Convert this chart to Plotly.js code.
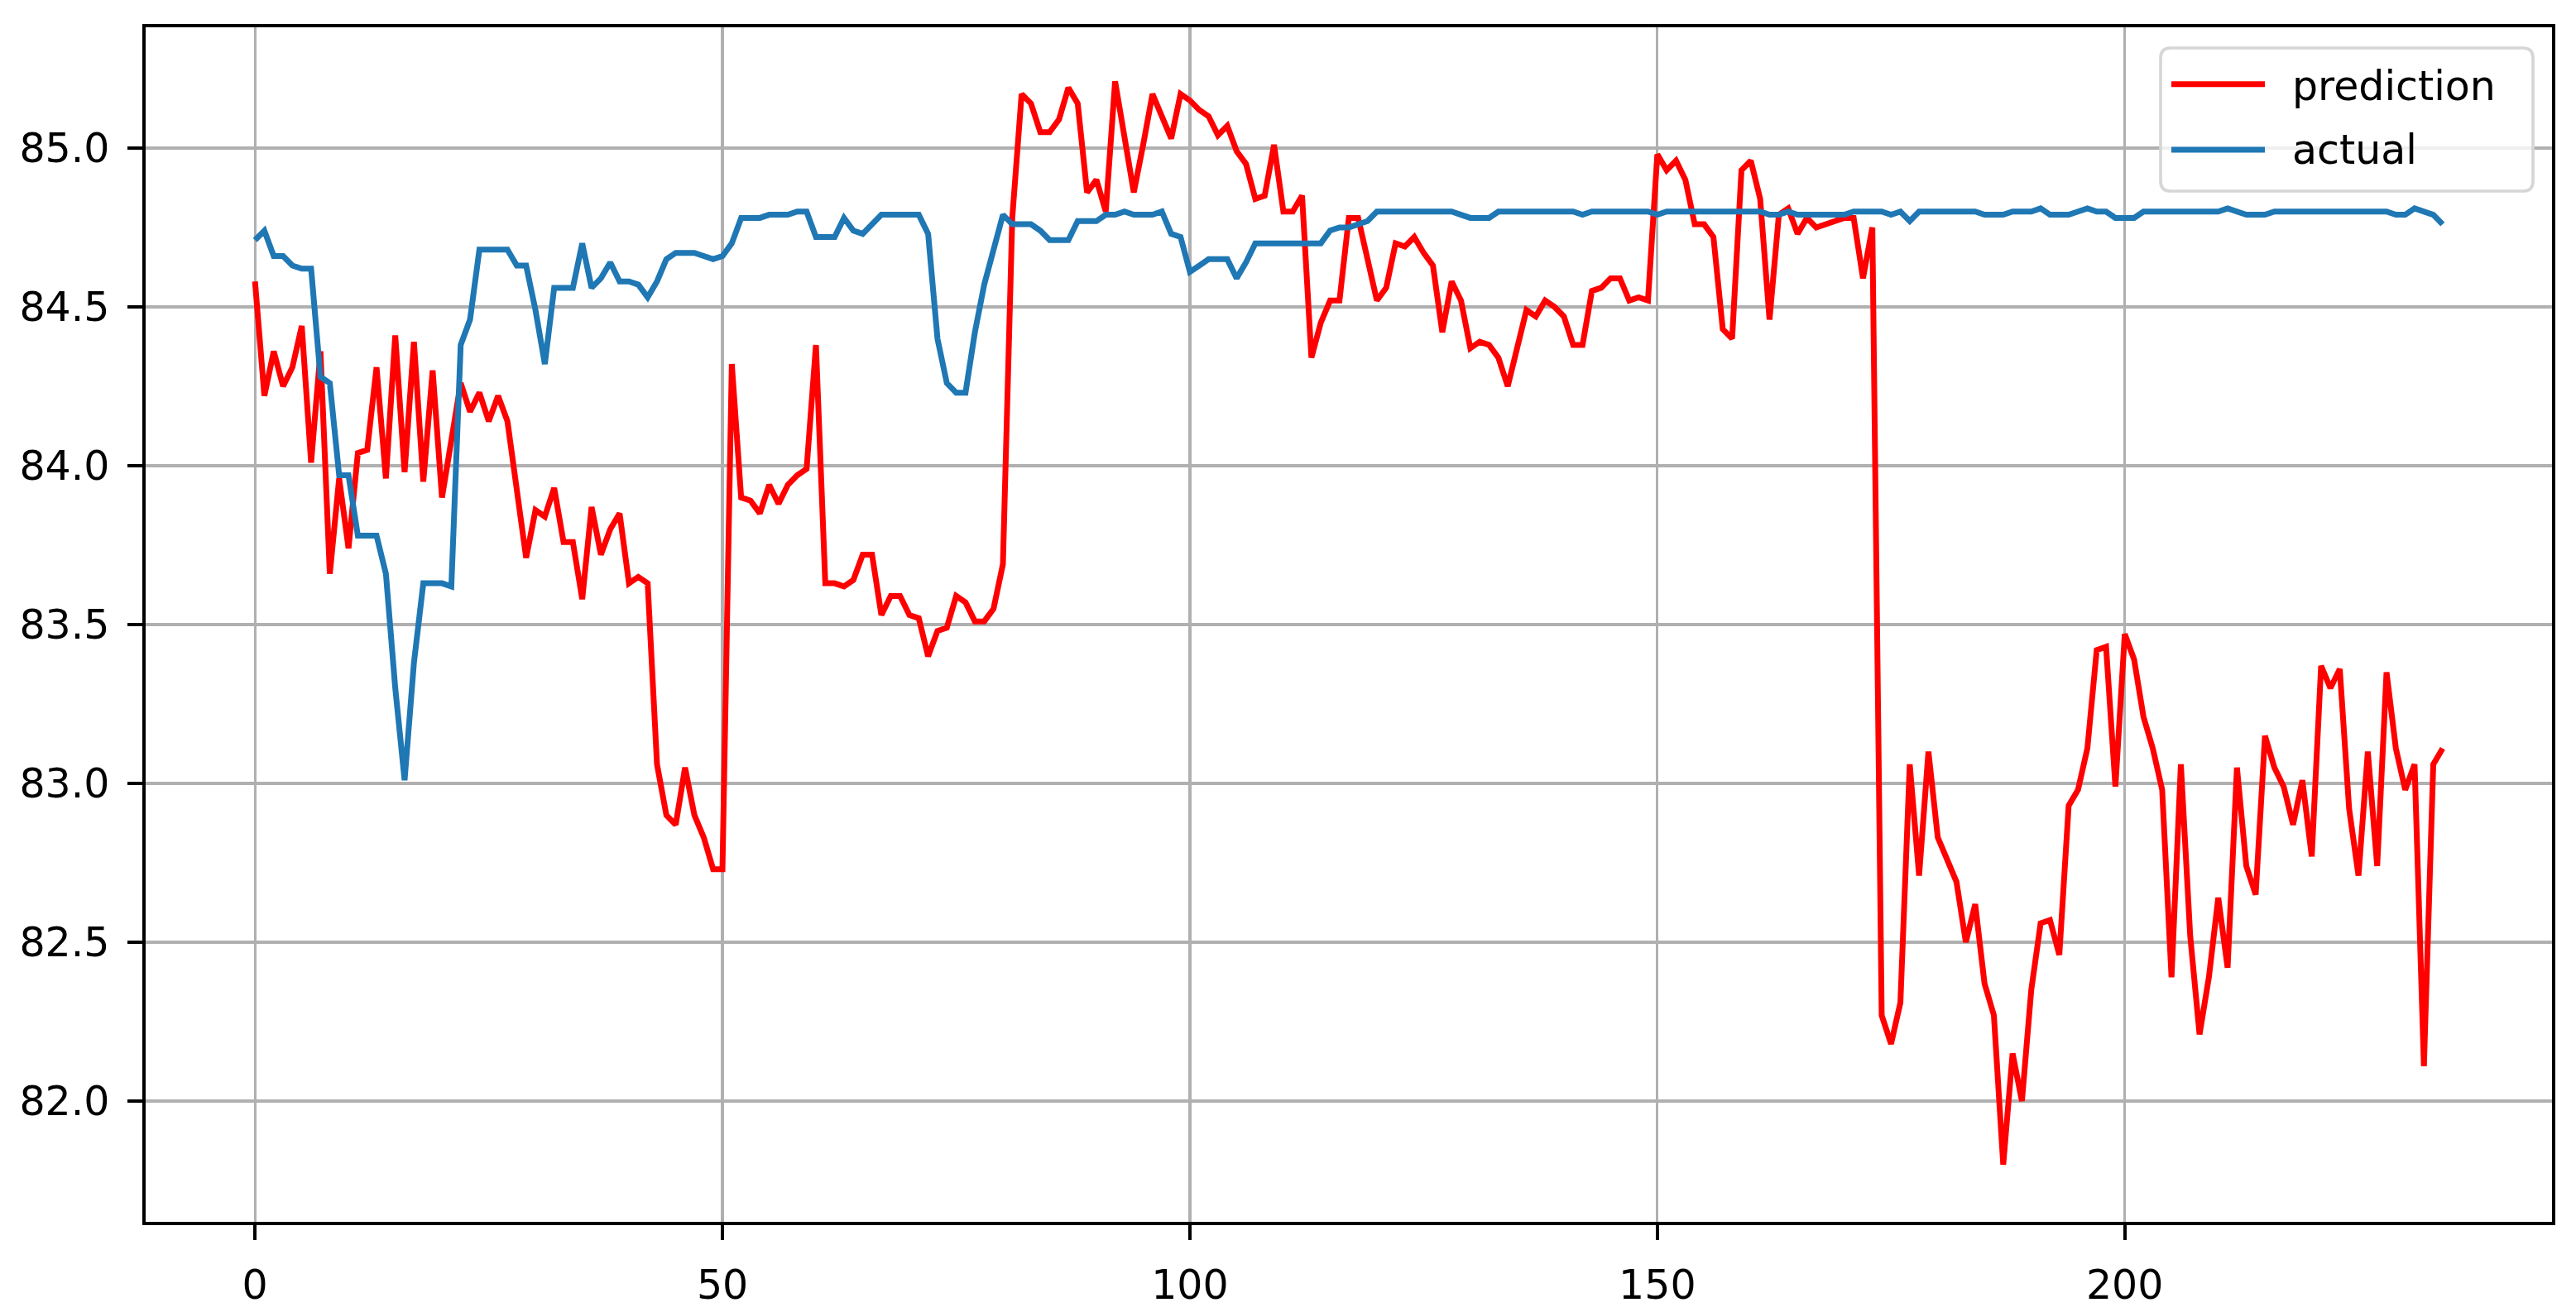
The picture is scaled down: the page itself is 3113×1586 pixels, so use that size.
<!DOCTYPE html>
<html>
<head>
<meta charset="utf-8">
<script src="https://cdn.plot.ly/plotly-3.0.1.min.js"></script>
<style>
  html, body { margin: 0; padding: 0; background: #ffffff; }
  #chart { width: 3113px; height: 1586px; }
</style>
</head>
<body>
<div id="chart"></div>
<script>
/******************** DATA ********************/
// prediction series (index 0..234)
const prediction = [
  84.58, 84.22, 84.36, 84.25, 84.31, 84.44, 84.01, 84.36, 83.66, 83.96,
  83.74, 84.04, 84.05, 84.31, 83.96, 84.41, 83.98, 84.39, 83.95, 84.30,
  83.90, 84.07, 84.26, 84.17, 84.23, 84.14, 84.22, 84.14, 83.91, 83.71,
  83.86, 83.84, 83.93, 83.76, 83.76, 83.58, 83.87, 83.72, 83.80, 83.85,
  83.63, 83.65, 83.63, 83.06, 82.90, 82.87, 83.05, 82.90, 82.83, 82.73,
  82.73, 84.32, 83.90, 83.89, 83.85, 83.94, 83.88, 83.94, 83.97, 83.99,
  84.38, 83.63, 83.63, 83.62, 83.64, 83.72, 83.72, 83.53, 83.59, 83.59,
  83.53, 83.52, 83.40, 83.48, 83.49, 83.59, 83.57, 83.51, 83.51, 83.55,
  83.69, 84.78, 85.17, 85.14, 85.05, 85.05, 85.09, 85.19, 85.14, 84.86,
  84.90, 84.80, 85.21, 85.04, 84.86, 85.01, 85.17, 85.10, 85.03, 85.17,
  85.15, 85.12, 85.10, 85.04, 85.07, 84.99, 84.95, 84.84, 84.85, 85.01,
  84.80, 84.80, 84.85, 84.34, 84.45, 84.52, 84.52, 84.78, 84.78, 84.65,
  84.52, 84.56, 84.70, 84.69, 84.72, 84.67, 84.63, 84.42, 84.58, 84.52,
  84.37, 84.39, 84.38, 84.34, 84.25, 84.37, 84.49, 84.47, 84.52, 84.50,
  84.47, 84.38, 84.38, 84.55, 84.56, 84.59, 84.59, 84.52, 84.53, 84.52,
  84.98, 84.93, 84.96, 84.90, 84.76, 84.76, 84.72, 84.43, 84.40, 84.93,
  84.96, 84.84, 84.46, 84.79, 84.81, 84.73, 84.78, 84.75, 84.76, 84.77,
  84.78, 84.78, 84.59, 84.75, 82.27, 82.18, 82.31, 83.06, 82.71, 83.10,
  82.83, 82.76, 82.69, 82.50, 82.62, 82.37, 82.27, 81.80, 82.15, 82.00,
  82.35, 82.56, 82.57, 82.46, 82.93, 82.98, 83.11, 83.42, 83.43, 82.99,
  83.47, 83.39, 83.21, 83.11, 82.98, 82.39, 83.06, 82.52, 82.21, 82.39,
  82.64, 82.42, 83.05, 82.74, 82.65, 83.15, 83.05, 82.99, 82.87, 83.01,
  82.77, 83.37, 83.30, 83.36, 82.92, 82.71, 83.10, 82.74, 83.35, 83.11,
  82.98, 83.06, 82.11, 83.06, 83.11
];

// actual series
const actual = [
  84.71, 84.74, 84.66, 84.66, 84.63, 84.62, 84.62, 84.28, 84.26, 83.97,
  83.97, 83.78, 83.78, 83.78, 83.66, 83.30, 83.01, 83.38, 83.63, 83.63,
  83.63, 83.62, 84.38, 84.46, 84.68, 84.68, 84.68, 84.68, 84.63, 84.63,
  84.49, 84.32, 84.56, 84.56, 84.56, 84.70, 84.56, 84.59, 84.64, 84.58,
  84.58, 84.57, 84.53, 84.58, 84.65, 84.67, 84.67, 84.67, 84.66, 84.65,
  84.66, 84.70, 84.78, 84.78, 84.78, 84.79, 84.79, 84.79, 84.80, 84.80,
  84.72, 84.72, 84.72, 84.78, 84.74, 84.73, 84.76, 84.79, 84.79, 84.79,
  84.79, 84.79, 84.73, 84.40, 84.26, 84.23, 84.23, 84.42, 84.57, 84.68,
  84.79, 84.76, 84.76, 84.76, 84.74, 84.71, 84.71, 84.71, 84.77, 84.77,
  84.77, 84.79, 84.79, 84.80, 84.79, 84.79, 84.79, 84.80, 84.73, 84.72,
  84.61, 84.63, 84.65, 84.65, 84.65, 84.59, 84.64, 84.70, 84.70, 84.70,
  84.70, 84.70, 84.70, 84.70, 84.70, 84.74, 84.75, 84.75, 84.76, 84.77,
  84.80, 84.80, 84.80, 84.80, 84.80, 84.80, 84.80, 84.80, 84.80, 84.79,
  84.78, 84.78, 84.78, 84.80, 84.80, 84.80, 84.80, 84.80, 84.80, 84.80,
  84.80, 84.80, 84.79, 84.80, 84.80, 84.80, 84.80, 84.80, 84.80, 84.80,
  84.79, 84.80, 84.80, 84.80, 84.80, 84.80, 84.80, 84.80, 84.80, 84.80,
  84.80, 84.80, 84.79, 84.79, 84.80, 84.79, 84.79, 84.79, 84.79, 84.79,
  84.79, 84.80, 84.80, 84.80, 84.80, 84.79, 84.80, 84.77, 84.80, 84.80,
  84.80, 84.80, 84.80, 84.80, 84.80, 84.79, 84.79, 84.79, 84.80, 84.80,
  84.80, 84.81, 84.79, 84.79, 84.79, 84.80, 84.81, 84.80, 84.80, 84.78,
  84.78, 84.78, 84.80, 84.80, 84.80, 84.80, 84.80, 84.80, 84.80, 84.80,
  84.80, 84.81, 84.80, 84.79, 84.79, 84.79, 84.80, 84.80, 84.80, 84.80,
  84.80, 84.80, 84.80, 84.80, 84.80, 84.80, 84.80, 84.80, 84.80, 84.79,
  84.79, 84.81, 84.80, 84.79, 84.76
];

const seriesNames = ["prediction", "actual"];
const xTicks = [0, 50, 100, 150, 200];
const yTicks = [82.0, 82.5, 83.0, 83.5, 84.0, 84.5, 85.0];

/******************** LAYOUT CONSTANTS ********************/
const W = 3113, H = 1586;
const M = { l: 176, r: 29, t: 33, b: 109 };
const plotW = W - M.l - M.r;
const plotH = H - M.t - M.b;
const FONT = "DejaVu Sans, Liberation Sans, sans-serif";
const COLORS = ["#ff0000", "#1f77b4"];
const LINE_W = 7;

// pixel -> paper helpers (for the hand-drawn legend)
const px = p => (p - M.l) / plotW;
const py = p => (H - M.b - p) / plotH;

/******************** TRACES ********************/
const xs = prediction.map((_, i) => i);
const traces = [prediction, actual].map((ys, k) => ({
  x: xs,
  y: ys,
  type: "scatter",
  mode: "lines",
  name: seriesNames[k],
  line: { color: COLORS[k], width: LINE_W },
  showlegend: false,
  hoverinfo: "skip"
}));

/******************** LEGEND (matplotlib style box) ********************/
function roundedRect(x0, y0, x1, y1, r) {
  // pixel coords in, paper path out
  const P = (a, b) => px(a) + "," + py(b);
  return "M" + P(x0 + r, y0) +
    " L" + P(x1 - r, y0) + " Q" + P(x1, y0) + " " + P(x1, y0 + r) +
    " L" + P(x1, y1 - r) + " Q" + P(x1, y1) + " " + P(x1 - r, y1) +
    " L" + P(x0 + r, y1) + " Q" + P(x0, y1) + " " + P(x0, y1 - r) +
    " L" + P(x0, y0 + r) + " Q" + P(x0, y0) + " " + P(x0 + r, y0) + " Z";
}

const shapes = [{
  type: "path",
  xref: "paper", yref: "paper",
  path: roundedRect(2611, 58, 3061, 231, 12),
  fillcolor: "rgba(255,255,255,0.8)",
  line: { color: "#d6d6d6", width: 3.7 },
  layer: "above"
}];
const annotations = [];
const entryY = [101.7, 181];
const textY = [104, 181];

seriesNames.forEach((name, k) => {
  shapes.push({
    type: "line",
    xref: "paper", yref: "paper",
    x0: px(2624), x1: px(2737),
    y0: py(entryY[k]), y1: py(entryY[k]),
    line: { color: COLORS[k], width: LINE_W },
    layer: "above"
  });
  annotations.push({
    xref: "paper", yref: "paper",
    x: px(2768), y: py(textY[k]),
    xanchor: "left", yanchor: "middle",
    text: name,
    showarrow: false,
    font: { family: FONT, size: 49, color: "#000000" }
  });
});

/******************** AXES ********************/
const axisCommon = {
  showgrid: true,
  gridcolor: "#b0b0b0",
  gridwidth: 3.3,
  zeroline: false,
  showline: true,
  linecolor: "#000000",
  linewidth: 3.7,
  mirror: true,
  ticks: "outside",
  ticklen: 18,
  tickwidth: 3.7,
  tickcolor: "#000000",
  ticklabelstandoff: 12,
  tickfont: { family: FONT, size: 49, color: "#000000" }
};

const layout = {
  width: W,
  height: H,
  margin: M,
  paper_bgcolor: "#ffffff",
  plot_bgcolor: "#ffffff",
  showlegend: false,
  xaxis: Object.assign({}, axisCommon, {
    range: [-11.7, 245.7],
    tickmode: "array",
    tickvals: xTicks,
    ticktext: xTicks.map(String)
  }),
  yaxis: Object.assign({}, axisCommon, {
    range: [81.62, 85.38],
    tickmode: "array",
    tickvals: yTicks,
    ticktext: yTicks.map(v => v.toFixed(1))
  }),
  shapes: shapes,
  annotations: annotations
};

Plotly.newPlot("chart", traces, layout, { displayModeBar: false, staticPlot: true });
</script>
</body>
</html>
